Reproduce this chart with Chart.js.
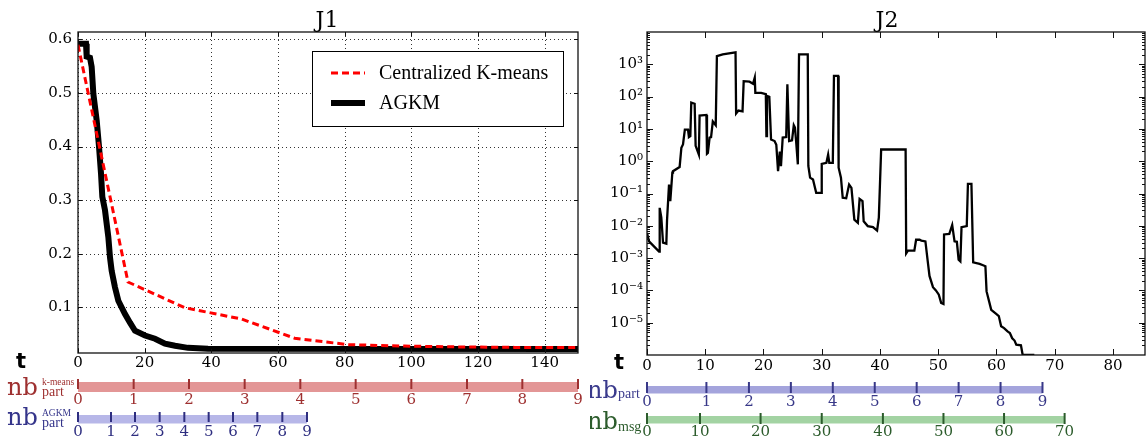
<!DOCTYPE html>
<html>
<head>
<meta charset="utf-8">
<script src="https://cdn.jsdelivr.net/npm/chart.js@4.4.1/dist/chart.umd.min.js"></script>
<style>
  body { margin: 0; background: #fff; }
  #wrap { position: relative; width: 1147px; height: 446px; overflow: hidden; }
  canvas { position: absolute; top: 0; }
  #j1 { left: 0; }
  #j2 { left: 590px; }
  .lab { position: absolute; white-space: nowrap; line-height: 1; }
  .title { font: 22px "DejaVu Serif", serif; width: 100px; text-align: center; }
  .t { font: bold 21px "DejaVu Sans", sans-serif; width: 20px; text-align: center; }
  .nb { font: 24px "DejaVu Serif", serif; }
  .sup { font: 9.5px "Liberation Serif", serif; }
  .sub { font: 14px "Liberation Serif", serif; }
  #rightLabels { position: absolute; left: 590px; top: 0; width: 60px; height: 446px; overflow: hidden; }
</style>
</head>
<body>
<div id="wrap">
  <canvas id="j1" width="590" height="446"></canvas>
  <canvas id="j2" width="557" height="446"></canvas>

  <div class="lab title" style="left:277px;top:7px">J1</div>
  <div class="lab title" style="left:837px;top:7px">J2</div>

  <div class="lab t" style="left:11px;top:349px">t</div>
  <div class="lab t" style="left:609px;top:350px">t</div>

  <div class="lab nb" style="left:7px;top:373px;color:#9e3030">nb</div>
  <div class="lab sup" style="left:42px;top:377px;color:#9e3030">k-means</div>
  <div class="lab sub" style="left:42px;top:384px;color:#9e3030">part</div>

  <div class="lab nb" style="left:7px;top:403px;color:#34348a">nb</div>
  <div class="lab sup" style="left:42px;top:408px;color:#34348a">AGKM</div>
  <div class="lab sub" style="left:42px;top:415px;color:#34348a">part</div>

  <div id="rightLabels">
    <div class="lab nb" style="left:-3px;top:376px;color:#3a3a8c">nb</div>
    <div class="lab sub" style="left:28px;top:386px;color:#3a3a8c">part</div>
    <div class="lab nb" style="left:-3px;top:407px;color:#2c5c2c">nb</div>
    <div class="lab sub" style="left:28px;top:419px;color:#2c5c2c">msg</div>
  </div>
</div>

<script>
// ---- J1 : cost vs t ----
const tKmeans = [0, 15, 32, 49, 65, 81, 98, 114, 131, 150];
const j1Kmeans = [0.59, 0.147, 0.099, 0.078, 0.042, 0.030, 0.0273, 0.0258, 0.0249, 0.0245];

const tAgkm = [0, 2.4, 2.6, 3.6, 4.1, 4.6, 5.6, 6.3, 6.9, 7.3, 8.1, 9.1, 9.6, 10.1, 11.1,
  12.1, 14.1, 15.6, 17.1, 20.1, 23.1, 26.1, 29.1, 33, 39, 150];
const j1Agkm = [0.592, 0.592, 0.568, 0.566, 0.549, 0.499, 0.449, 0.40, 0.35, 0.306, 0.281,
  0.231, 0.193, 0.168, 0.137, 0.112, 0.087, 0.071, 0.056, 0.047, 0.041, 0.032, 0.028, 0.024,
  0.0222, 0.022];

const j1XTicks = [0, 20, 40, 60, 80, 100, 120, 140];
const j1YTicks = [0.1, 0.2, 0.3, 0.4, 0.5, 0.6];

// ---- J2 : log scale ----
const tJ2 = [0, 0.35, 2.07, 2.18, 2.46, 2.75, 3.32, 3.44, 3.78, 4.0, 4.35, 4.46, 5.6, 5.9, 6.18,
  6.5, 7.04, 7.2, 7.44, 7.6, 8.18, 8.35, 8.9, 9.03, 10.2, 10.3, 10.45, 10.75, 11.0, 11.3, 11.8,
  12.0, 13.0, 15.2, 15.3, 15.7, 16.4, 16.6, 17.6, 18.2, 18.5, 18.6, 19.6, 20.4, 20.5, 20.6, 21.0,
  21.3, 21.9, 22.2, 22.5, 22.8, 23.0, 23.3, 23.9, 24.1, 24.4, 24.9, 25.2, 25.4, 25.6, 25.9, 26.1,
  27.6, 27.7, 28.0, 28.5, 29.05, 29.9, 30.0, 30.8, 31.1, 31.3, 31.9, 32.1, 32.8, 32.9, 33.3, 33.6,
  34.2, 34.7, 35.1, 35.6, 36.2, 36.5, 37.0, 37.2, 37.9, 38.8, 39.5, 39.8, 40.2, 44.4, 44.5, 44.8,
  45.9, 46.2, 46.8, 47.1, 47.8, 48.2, 48.5, 49.1, 49.6, 50.1, 50.5, 50.9, 51.0, 51.9, 52.4, 52.8,
  53.2, 53.5, 53.8, 54.0, 54.9, 55.1, 55.7, 56.0, 57.1, 57.7, 58.1, 58.3, 58.8, 59.1, 59.9, 60.4,
  60.8, 61.3, 61.9, 62.3, 62.7, 63.1, 63.4, 64.2, 64.5, 66.5];
const j2 = [6.0e-3, 3.3e-3, 1.6e-3, 3.6e-2, 1.8e-2, 3.0e-3, 2.8e-3, 1.5e-2, 0.19, 0.058, 0.44,
  0.49, 0.66, 2.6, 3.3, 9.5, 9.5, 5.6, 6.0, 65, 60, 3.0, 1.6, 26, 27, 1.7, 1.8, 5.4, 5.6, 17, 13,
  1800, 2040, 2340, 30, 37, 35, 300, 290, 250, 390, 130, 130, 120, 6.0, 105, 98, 4.7, 4.2, 3.2,
  0.49, 2.0, 0.7, 5.4, 5.6, 240, 4.2, 4.4, 13, 11, 4.2, 0.8, 2040, 2040, 0.71, 0.31, 0.27, 0.105,
  0.105, 0.83, 0.89, 1.6, 0.89, 0.89, 440, 440, 0.63, 0.31, 0.074, 0.071, 0.19, 0.15, 0.0155,
  0.0123, 0.068, 0.058, 0.0138, 0.0098, 0.0091, 0.0071, 0.0178, 2.3, 2.3, 1.4e-3, 1.7e-3, 1.7e-3,
  3.7e-3, 3.7e-3, 3.5e-3, 3.3e-3, 7.9e-4, 2.8e-4, 1.26e-4, 1.0e-4, 7.4e-5, 4.1e-5, 3.8e-5, 5.4e-3,
  5.6e-3, 1.05e-2, 3.3e-3, 3.2e-3, 8.9e-4, 7.9e-4, 9.1e-3, 9.8e-3, 0.2, 0.2, 7.4e-4, 6.6e-4,
  6.0e-4, 5.6e-4, 9.3e-5, 4.1e-5, 2.5e-5, 1.9e-5, 1.6e-5, 7.8e-6, 6.8e-6, 5.4e-6, 4.8e-6, 3.3e-6,
  2.8e-6, 2.1e-6, 2.0e-6, 1.0e-6, 1.0e-6];

const j2XTicks = [0, 10, 20, 30, 40, 50, 60, 70, 80];
const j2YTicks = [1e-5, 1e-4, 1e-3, 1e-2, 1e-1, 1e0, 1e1, 1e2, 1e3];

// ---- partition / message counters under the plots (positions in t) ----
const kmPartT = [0, 16.7, 33.3, 50, 66.7, 83.3, 100, 116.7, 133.3, 150];
const kmPartLabels = ['0', '1', '2', '3', '4', '5', '6', '7', '8', '9'];
const agkmPartT = [0, 9.9, 17.1, 24.5, 31.9, 39.2, 46.5, 53.8, 61.3, 68.7];
const agkmPartLabels = ['0', '1', '2', '3', '4', '5', '6', '7', '8', '9'];
const j2PartT = [0, 10.2, 17.5, 24.7, 31.9, 39.1, 46.3, 53.5, 60.7, 67.9];
const j2PartLabels = ['0', '1', '2', '3', '4', '5', '6', '7', '8', '9'];
const j2MsgT = [0, 9.1, 19.5, 30, 40.5, 50.9, 61.3, 71.7];
const j2MsgLabels = ['0', '10', '20', '30', '40', '50', '60', '70'];

const serif = '"DejaVu Serif", serif';
const xy = (xs, ys) => xs.map((x, i) => ({ x: x, y: ys[i] }));
const supMap = { '-': '\u207B', '0': '\u2070', '1': '\u00B9', '2': '\u00B2', '3': '\u00B3',
  '4': '\u2074', '5': '\u2075', '6': '\u2076' };
const pow10 = v => '10' + String(Math.round(Math.log10(v))).split('').map(c => supMap[c]).join('');

// border, inward ticks and optional dotted grid
function makeFrame(o) {
  return {
    id: 'frame',
    beforeDatasetsDraw(chart) {
      if (!o.grid) return;
      const { ctx, chartArea: a, scales: { x, y } } = chart;
      ctx.save();
      ctx.strokeStyle = 'rgba(0,0,0,0.8)';
      ctx.lineWidth = 1;
      ctx.setLineDash([1, 3]);
      ctx.beginPath();
      x.ticks.forEach(t => {
        const p = Math.round(x.getPixelForValue(t.value)) + 0.5;
        ctx.moveTo(p, a.top); ctx.lineTo(p, a.bottom);
      });
      y.ticks.forEach(t => {
        const p = Math.round(y.getPixelForValue(t.value)) + 0.5;
        ctx.moveTo(a.left, p); ctx.lineTo(a.right, p);
      });
      ctx.stroke();
      ctx.restore();
    },
    afterDatasetsDraw(chart) {
      const { ctx, chartArea: a, scales: { x, y } } = chart;
      ctx.save();
      ctx.strokeStyle = '#111';
      ctx.lineWidth = 1;
      ctx.beginPath();
      x.ticks.forEach(t => {
        const p = Math.round(x.getPixelForValue(t.value)) + 0.5;
        ctx.moveTo(p, a.top); ctx.lineTo(p, a.top + o.len);
        ctx.moveTo(p, a.bottom); ctx.lineTo(p, a.bottom - o.len);
      });
      y.ticks.forEach(t => {
        const p = Math.round(y.getPixelForValue(t.value)) + 0.5;
        ctx.moveTo(a.left, p); ctx.lineTo(a.left + o.len, p);
        ctx.moveTo(a.right, p); ctx.lineTo(a.right - o.len, p);
      });
      (o.minorY || []).forEach(v => {
        const p = Math.round(y.getPixelForValue(v)) + 0.5;
        ctx.moveTo(a.left, p); ctx.lineTo(a.left + o.len / 2, p);
        ctx.moveTo(a.right, p); ctx.lineTo(a.right - o.len / 2, p);
      });
      ctx.stroke();
      ctx.lineWidth = 1.3;
      ctx.strokeRect(a.left, a.top, a.right - a.left, a.bottom - a.top);
      ctx.restore();
    }
  };
}

// coloured counter bars placed on the chart's own x scale
function makeBars(rows) {
  return {
    id: 'bars',
    afterDraw(chart) {
      const { ctx, scales: { x } } = chart;
      ctx.save();
      rows.forEach(r => {
        const ps = r.at.map(v => x.getPixelForValue(v));
        ctx.fillStyle = r.fill;
        ctx.fillRect(ps[0], r.top, ps[ps.length - 1] - ps[0], r.h);
        ctx.strokeStyle = r.color;
        ctx.lineWidth = 2;
        ctx.beginPath();
        ps.forEach(p => { ctx.moveTo(p, r.tickTop); ctx.lineTo(p, r.tickBot); });
        ctx.stroke();
        ctx.fillStyle = r.color;
        ctx.font = '15px ' + serif;
        ctx.textAlign = 'center';
        ctx.textBaseline = 'middle';
        ps.forEach((p, i) => ctx.fillText(r.labels[i], p, r.labelY));
      });
      ctx.restore();
    }
  };
}

// framed legend inside the J1 plot
const boxLegend = {
  id: 'boxLegend',
  afterDatasetsDraw(chart) {
    const { ctx } = chart;
    const L = 312, T = 51, W = 251, H = 75;
    ctx.save();
    ctx.fillStyle = '#fff';
    ctx.fillRect(L, T, W, H);
    ctx.strokeStyle = '#000';
    ctx.lineWidth = 1;
    ctx.strokeRect(L + 0.5, T + 0.5, W, H);
    chart.data.datasets.forEach((ds, i) => {
      const yy = T + 22 + i * 30;
      ctx.strokeStyle = ds.borderColor;
      ctx.lineWidth = ds.borderWidth;
      ctx.setLineDash(ds.borderDash || []);
      ctx.beginPath();
      ctx.moveTo(L + 19, yy); ctx.lineTo(L + 53, yy);
      ctx.stroke();
      ctx.setLineDash([]);
      ctx.fillStyle = '#000';
      ctx.font = '20px "Liberation Serif", serif';
      ctx.textBaseline = 'middle';
      ctx.fillText(ds.label, L + 67, yy + 1);
    });
    ctx.restore();
  }
};

const tickFont = { family: serif, size: 15 };
const noGrid = { display: false, drawTicks: false, tickLength: 0 };

new Chart(document.getElementById('j1'), {
  type: 'line',
  data: {
    datasets: [
      { label: 'Centralized K-means', data: xy(tKmeans, j1Kmeans), borderColor: '#ff0000',
        borderWidth: 3, borderDash: [7, 4], pointRadius: 0, tension: 0 },
      { label: 'AGKM', data: xy(tAgkm, j1Agkm), borderColor: '#000', borderWidth: 6,
        pointRadius: 0, tension: 0 }
    ]
  },
  options: {
    responsive: false,
    animation: false,
    layout: { padding: { left: 8, right: 12, top: 32, bottom: 71 } },
    scales: {
      x: {
        type: 'linear', min: 0, max: 150,
        afterBuildTicks: s => { s.ticks = j1XTicks.map(v => ({ value: v })); },
        afterFit: s => { s.height = 22; },
        grid: noGrid, border: { display: false },
        ticks: { font: tickFont, color: '#000', padding: 1, maxRotation: 0, autoSkip: false }
      },
      y: {
        type: 'linear', min: 0.0144, max: 0.614,
        afterBuildTicks: s => { s.ticks = j1YTicks.map(v => ({ value: v })); },
        afterFit: s => { s.width = 70; },
        grid: noGrid, border: { display: false },
        ticks: { font: tickFont, color: '#000', padding: 6, callback: v => v.toFixed(1) }
      }
    },
    plugins: { legend: { display: false }, tooltip: { enabled: false } }
  },
  plugins: [
    makeFrame({ grid: true, len: 4 }),
    boxLegend,
    makeBars([
      { at: kmPartT, labels: kmPartLabels, fill: '#e39696', color: '#9e3030',
        top: 382, h: 10, tickTop: 379, tickBot: 389, labelY: 400 },
      { at: agkmPartT, labels: agkmPartLabels, fill: '#b7b7e8', color: '#2e2e80',
        top: 415, h: 8.5, tickTop: 412, tickBot: 422, labelY: 432 }
    ])
  ]
});

const minorLog = [];
for (let k = -6; k < 4; k++) for (let m = 2; m < 10; m++) minorLog.push(m * Math.pow(10, k));

new Chart(document.getElementById('j2'), {
  type: 'line',
  data: {
    datasets: [
      { label: 'J2', data: xy(tJ2, j2), borderColor: '#000', borderWidth: 2.3,
        pointRadius: 0, tension: 0 }
    ]
  },
  options: {
    responsive: false,
    animation: false,
    layout: { padding: { left: 2, right: 2, top: 32, bottom: 69 } },
    scales: {
      x: {
        type: 'linear', min: 0, max: 85.5,
        afterBuildTicks: s => { s.ticks = j2XTicks.map(v => ({ value: v })); },
        afterFit: s => { s.height = 22; },
        grid: noGrid, border: { display: false },
        ticks: { font: tickFont, color: '#000', padding: 2, maxRotation: 0, autoSkip: false }
      },
      y: {
        type: 'logarithmic', min: 1e-6, max: 1e4,
        afterBuildTicks: s => { s.ticks = j2YTicks.map(v => ({ value: v })); },
        afterFit: s => { s.width = 55; },
        grid: noGrid, border: { display: false },
        ticks: { font: tickFont, color: '#000', padding: 4, callback: v => pow10(v) }
      }
    },
    plugins: { legend: { display: false }, tooltip: { enabled: false } }
  },
  plugins: [
    makeFrame({ grid: false, len: 6, minorY: minorLog }),
    makeBars([
      { at: j2PartT, labels: j2PartLabels, fill: '#a4a4dc', color: '#383888',
        top: 386, h: 7.5, tickTop: 382, tickBot: 393, labelY: 402 },
      { at: j2MsgT, labels: j2MsgLabels, fill: '#a3d3a3', color: '#2c5c2c',
        top: 416, h: 7.5, tickTop: 413, tickBot: 424, labelY: 432 }
    ])
  ]
});
</script>
</body>
</html>
